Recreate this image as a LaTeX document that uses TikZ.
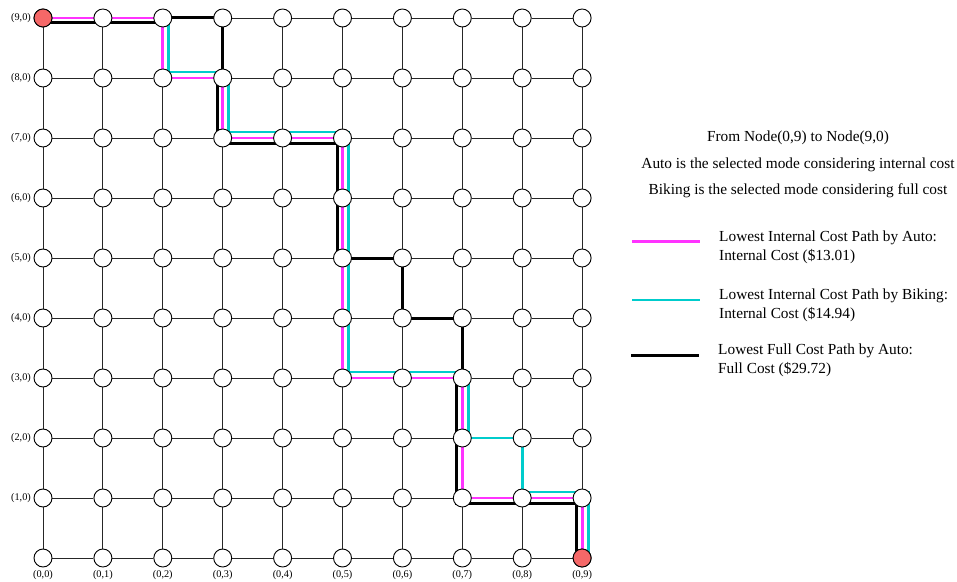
\documentclass[tikz,border=0pt]{standalone}
\usepackage{fontspec}
\setmainfont{Liberation Serif}
\usetikzlibrary{calc}
\definecolor{pathmag}{RGB}{255,51,255}
\definecolor{pathcyan}{RGB}{0,204,204}
\definecolor{startred}{RGB}{245,104,104}
\pgfdeclarelayer{bg}
\pgfsetlayers{bg,main}
\begin{document}
\begin{tikzpicture}[x=1bp,y=-1bp,
  gridnode/.style={circle,draw=black,fill=white,line width=0.9bp,minimum size=18bp,inner sep=0pt},
  endnode/.style={gridnode,fill=startred},
  gridline/.style={line width=0.9bp,draw=black!85},
  magpath/.style={draw=pathmag,line width=2.9bp},
  cyanpath/.style={draw=pathcyan,line width=2.9bp},
  blkpath/.style={draw=black,line width=3bp},
  lbl/.style={font=\fontsize{10.3}{12}\selectfont,inner sep=0pt},
  headtext/.style={font=\fontsize{15.4}{18}\selectfont,inner sep=0pt},
  legtext/.style={font=\fontsize{15.4}{18.5}\selectfont,inner sep=0pt,align=left,anchor=west}
]
\useasboundingbox (0,0) rectangle (957,582);
% nodes
\foreach \c in {0,...,9}{
  \foreach \r in {0,...,9}{
    \node[gridnode] (n-\c-\r) at ({43+59.9*\c},{558-60*\r}) {};
  }
}
\node[endnode] at (n-0-9.center) {};
\node[endnode] at (n-9-0.center) {};
% labels
\foreach \r in {1,...,9}{
  \node[lbl,anchor=east] (rl-\r) at ([xshift=-12bp]n-0-\r.center) {(\r,0)};
}
\foreach \c in {0,...,9}{
  \node[lbl] (cl-\c) at ([yshift=-17bp]n-\c-0.center) {(0,\c)};
}
\begin{pgfonlayer}{bg}
% grid lines
\foreach \r in {0,...,9}{
  \foreach \c [evaluate=\c as \d using int(\c+1)] in {0,...,8}{
    \draw[gridline] (n-\c-\r) -- (n-\d-\r);
    \draw[gridline] (n-\r-\c) -- (n-\r-\d);
  }
}
% cyan path
\draw[cyanpath] (n-0-9.center) -- (n-2-9.center) -- ($(n-2-9)+(6,0)$) -- ($(n-2-8)+(6,-6)$)
  -- ($(n-3-8)+(6,-6)$) -- ($(n-3-7)+(6,-6)$) -- ($(n-5-7)+(6,-6)$) -- ($(n-5-3)+(6,-6)$)
  -- ($(n-7-3)+(6,-6)$) -- ($(n-7-2)+(6,0)$) -- (n-7-2.center) -- (n-8-2.center)
  -- (n-8-1.center) -- ($(n-8-1)+(0,-6)$) -- ($(n-9-1)+(6,-6)$) -- ($(n-9-0)+(6,0)$);
% magenta path
\draw[magpath] (n-0-9.center) -- (n-2-9.center) -- (n-2-8.center) -- (n-3-8.center)
  -- (n-3-7.center) -- (n-5-7.center) -- (n-5-3.center) -- (n-7-3.center)
  -- (n-7-1.center) -- (n-9-1.center) -- (n-9-0.center);
% black path
\draw[blkpath] ($(n-0-9)+(0,5)$) -- ($(n-2-9)+(0,5)$) -- (n-2-9.center) -- (n-3-9.center)
  -- (n-3-8.center) -- ($(n-3-8)+(-5,0)$) -- ($(n-3-7)+(-5,6)$) -- ($(n-5-7)+(-5,6)$)
  -- ($(n-5-5)+(-5,0)$) -- (n-5-5.center) -- (n-6-5.center) -- (n-6-4.center)
  -- (n-7-4.center) -- (n-7-3.center) -- ($(n-7-3)+(-6,0)$) -- ($(n-7-1)+(-6,5)$)
  -- ($(n-9-1)+(-6,5)$) -- ($(n-9-0)+(-6,0)$);
\end{pgfonlayer}
% header texts
\node[headtext] (h1) at (798,138) {From Node(0,9) to Node(9,0)};
\node[headtext] (h2) at (798,165) {Auto is the selected mode considering internal cost};
\node[headtext] (h3) at (798,191) {Biking is the selected mode considering full cost};
% legend
\coordinate (lm-a) at (632,241.7);
\coordinate (lm-b) at (700,241.7);
\draw[magpath] (lm-a) -- (lm-b);
\node[legtext] (lt-m) at (719,247.5) {Lowest Internal Cost Path by Auto:\\Internal Cost (\$13.01)};
\coordinate (lc-a) at (632,300);
\coordinate (lc-b) at (700,300);
\draw[cyanpath] (lc-a) -- (lc-b);
\node[legtext] (lt-c) at (719,305.5) {Lowest Internal Cost Path by Biking:\\Internal Cost (\$14.94)};
\coordinate (lk-a) at (631,355.7);
\coordinate (lk-b) at (699,355.7);
\draw[blkpath] (lk-a) -- (lk-b);
\node[legtext] (lt-k) at (718,360.2) {Lowest Full Cost Path by Auto:\\Full Cost (\$29.72)};
\end{tikzpicture}
\end{document}
